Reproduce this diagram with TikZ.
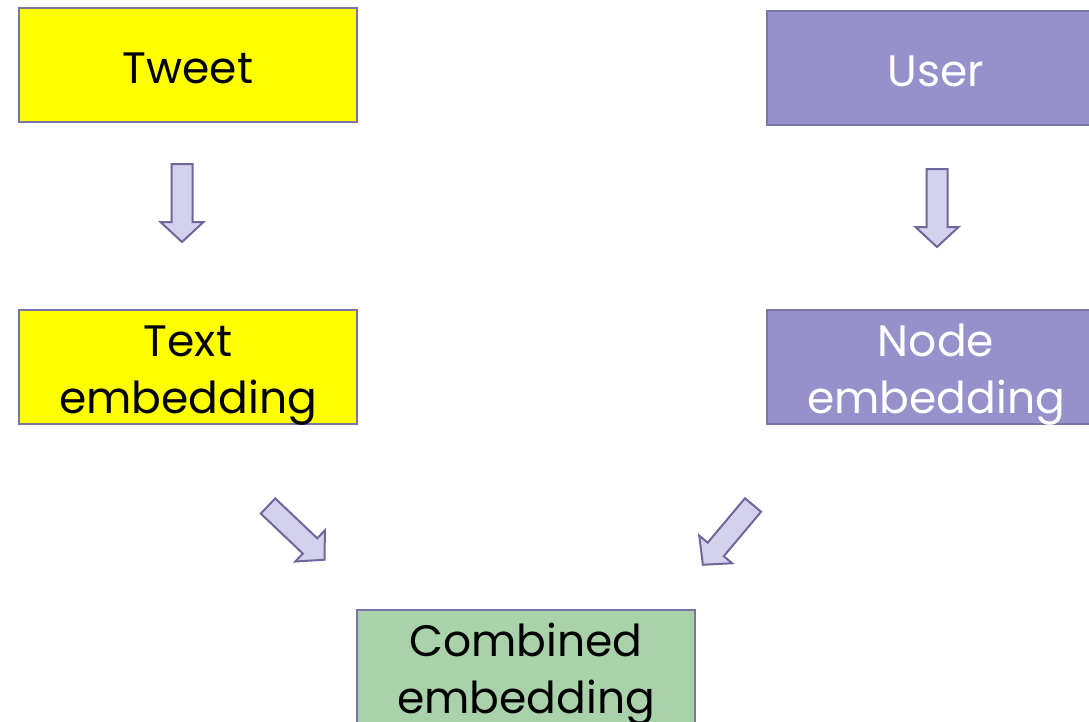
\documentclass[tikz,border=0pt]{standalone}
\usepackage{fontspec}
\setmainfont{Poppins}
\definecolor{boxline}{RGB}{122,116,166}
\definecolor{tweetyellow}{RGB}{255,255,0}
\definecolor{userpurple}{RGB}{150,145,203}
\definecolor{combgreen}{RGB}{169,210,171}
\definecolor{arrowfill}{RGB}{211,209,236}
\definecolor{arrowline}{RGB}{110,103,155}
\begin{document}
\begin{tikzpicture}[x=1pt,y=-1pt,
  box/.style={draw=boxline, line width=2pt, minimum width=338pt, minimum height=114pt,
    inner sep=0pt, align=center, font=\fontsize{44}{57}\selectfont},
  oneline/.style={text height=40pt, text depth=4pt},
  twoline/.style={text height=100pt, text depth=8pt},
  blockarrow/.pic={\draw[arrowline, fill=arrowfill, line width=2pt, line join=miter]
    (0,-10.5) -- (58,-10.5) -- (58,-21.5) -- (78,0) -- (58,21.5) -- (58,10.5) -- (0,10.5) -- cycle;}
]
\useasboundingbox (0,0) rectangle (1089,721);
\clip (0,0) rectangle (1089,721);
\fill[white] (0,0) rectangle (1089,721);
\node[box, oneline, fill=tweetyellow] (tweet) at (188,65) {Tweet};
\node[box, oneline, fill=userpurple, text=white] (user) at (936,68) {User};
\node[box, twoline, fill=tweetyellow] (textemb) at (188,367) {Text\\embedding};
\node[box, twoline, fill=userpurple, text=white] (nodeemb) at (936,367) {Node\\embedding};
\node[box, twoline, fill=combgreen] (comb) at (526,667) {Combined\\embedding};
\pic[rotate=-90] (a1) at (182,164) {blockarrow};
\pic[rotate=-90] (a2) at (937,169) {blockarrow};
\pic[rotate=-43.5] (a3) at (268,506) {blockarrow};
\pic[rotate=-130] (a4) at (753,505) {blockarrow};
\end{tikzpicture}
\end{document}
